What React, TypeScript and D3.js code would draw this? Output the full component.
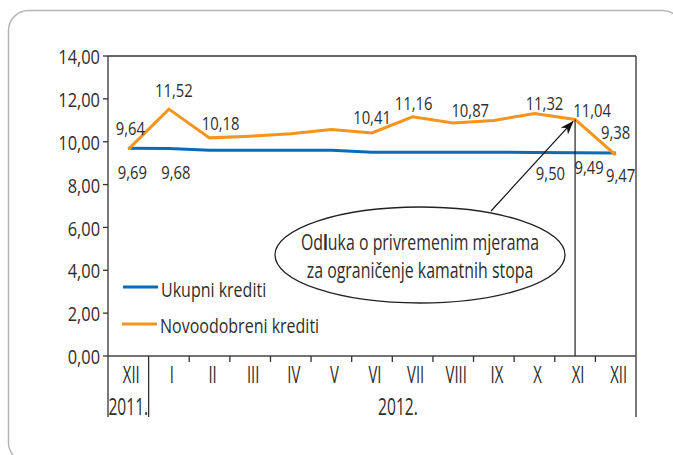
import React from 'react';
import * as d3 from 'd3';

// mjeseci (XII 2011. + I-XII 2012.)
const months = ['XII', 'I', 'II', 'III', 'IV', 'V', 'VI', 'VII', 'VIII', 'IX', 'X', 'XI', 'XII'];
const years = ['2011.', '2012.'];
const yTicks = [0, 2, 4, 6, 8, 10, 12, 14];

// Ukupni krediti
const ukupni = [9.69, 9.68, 9.6, 9.6, 9.6, 9.6, 9.51, 9.51, 9.51, 9.51, 9.5, 9.49, 9.47];
// Novoodobreni krediti
const novi = [9.64, 11.52, 10.18, 10.26, 10.37, 10.57, 10.41, 11.16, 10.87, 10.99, 11.32, 11.04, 9.38];

// koje vrijednosti imaju oznaku
const noviLabeled = [0, 1, 2, 6, 7, 8, 10, 11, 12];
const ukupniLabeled = [0, 1, 10, 11, 12];

// pomak oznaka od tocke [dx, dy]
const noviOffsets: Record<number, [number, number]> = {
  0: [2, -22], 1: [5, -19], 2: [11, -15], 6: [0, -16], 7: [1, -14],
  8: [17, -13], 10: [10, -11], 11: [17, -10], 12: [0, -23],
};
const ukupniOffsets: Record<number, [number, number]> = {
  0: [4, 23], 1: [7, 23], 10: [16, 20], 11: [14, 14], 12: [5, 22],
};

const W = 673;
const H = 455;
const M = { left: 108, right: 636, top: 56, bottom: 356 };
const BLUE = '#0b6bb5';
const ORANGE = '#f7941d';
const TEXT = '#2e2e2e';
const FONT = '"Open Sans", "Noto Sans", sans-serif';

const fmt = (v: number) => v.toFixed(2).replace('.', ',');

// uski tekst (Myriad Condensed izgled)
const CText = ({ x, y, sx = 0.75, size = 20, anchor = 'middle', baseline = 'central', children }: any) => (
  <text
    transform={`translate(${x},${y}) scale(${sx},1)`}
    fontSize={size}
    textAnchor={anchor}
    dominantBaseline={baseline}
    fill={TEXT}
    fontFamily={FONT}
  >
    {children}
  </text>
);

const App = () => {
  const x = d3.scaleBand<number>()
    .domain(months.map((_, i) => i))
    .range([M.left, M.right]);
  const y = d3.scaleLinear().domain([0, 14]).range([M.bottom, M.top]);
  const cx = (i: number) => (x(i) as number) + x.bandwidth() / 2;

  const line = d3.line<number>()
    .x((_, i) => cx(i))
    .y(d => y(d));

  const bottomEnd = 417;
  const xiIdx = 11;

  return (
    <div style={{ position: 'absolute', left: 0, top: 0 }}>
      <svg width={W} height={H} style={{ display: 'block', background: '#fff' }}>
        <defs>
          <marker id="arr" markerUnits="userSpaceOnUse" markerWidth="14" markerHeight="10"
            refX="13" refY="5" orient="auto">
            <path d="M0,0 L14,5 L0,10 L4,5 z" fill="#111" />
          </marker>
        </defs>

        {/* okvir */}
        <rect x={8.5} y={10.5} width={674} height={452} rx={20} fill="none" stroke="#b5b5b5" strokeWidth={1.5} />

        {/* okvir grafa */}
        <line x1={M.left} x2={M.right} y1={M.top} y2={M.top} stroke="#333" strokeWidth={1.3} />
        <line x1={M.left} x2={M.left} y1={M.top} y2={bottomEnd} stroke="#333" strokeWidth={1.3} />
        <line x1={M.right} x2={M.right} y1={M.top} y2={bottomEnd} stroke="#333" strokeWidth={1.3} />
        <line x1={M.left} x2={M.right} y1={M.bottom} y2={M.bottom} stroke="#444" strokeWidth={1.5} />
        <line x1={x(1)} x2={x(1)} y1={M.bottom} y2={bottomEnd} stroke="#333" strokeWidth={1.3} />

        {/* y os */}
        {yTicks.map(t => (
          <g key={t}>
            <line x1={M.left - 5} x2={M.left} y1={y(t)} y2={y(t)} stroke="#333" strokeWidth={1.3} />
            <CText x={100} y={y(t)} sx={0.82} size={20} anchor="end">{fmt(t)}</CText>
          </g>
        ))}

        {/* x os */}
        {months.map((m, i) => (
          <g key={i}>
            {i > 1 && (
              <line x1={x(i)} x2={x(i)} y1={M.bottom} y2={M.bottom + 6} stroke="#333" strokeWidth={1.3} />
            )}
            <CText x={cx(i) + 3} y={374} sx={0.62} size={24}>{m}</CText>
          </g>
        ))}
        <CText x={cx(0)} y={406} sx={0.65} size={24}>{years[0]}</CText>
        <CText x={398} y={406} sx={0.65} size={24}>{years[1]}</CText>

        {/* linije */}
        <path d={line(ukupni) || ''} fill="none" stroke={BLUE} strokeWidth={3} />
        <path d={line(novi) || ''} fill="none" stroke={ORANGE} strokeWidth={3} />

        {/* oznake vrijednosti */}
        {noviLabeled.map(i => (
          <CText key={'n' + i} x={cx(i) + noviOffsets[i][0]} y={y(novi[i]) + noviOffsets[i][1]} sx={0.78} size={19}>
            {fmt(novi[i])}
          </CText>
        ))}
        {ukupniLabeled.map(i => (
          <CText key={'u' + i} x={cx(i) + ukupniOffsets[i][0]} y={y(ukupni[i]) + ukupniOffsets[i][1]} sx={0.78} size={19}>
            {fmt(ukupni[i])}
          </CText>
        ))}

        {/* XI linija i napomena */}
        <line x1={cx(xiIdx)} x2={cx(xiIdx)} y1={y(novi[xiIdx])} y2={M.bottom} stroke="#222" strokeWidth={1.2} />
        <line x1={491} y1={211} x2={cx(xiIdx) - 2} y2={y(novi[xiIdx]) + 2} stroke="#111" strokeWidth={1.2} markerEnd="url(#arr)" />
        <ellipse cx={420} cy={255} rx={145} ry={48} fill="#fff" stroke="#222" strokeWidth={1.3} />
        <text transform="translate(420,250) scale(0.74,1)" fontSize={21.5} textAnchor="middle" fill={TEXT} fontFamily={FONT}>
          Od<tspan fontWeight="bold">l</tspan>uka o privremenim mjerama
        </text>
        <CText x={420} y={278} sx={0.74} size={21.5} baseline="alphabetic">za ograničenje kamatnih stopa</CText>

        {/* legenda */}
        <line x1={123} x2={158} y1={287} y2={287} stroke={BLUE} strokeWidth={3} />
        <CText x={161} y={297} sx={0.8} size={20} anchor="start" baseline="alphabetic">Ukupni krediti</CText>
        <line x1={122} x2={157} y1={324} y2={324} stroke={ORANGE} strokeWidth={3} />
        <CText x={160} y={333} sx={0.8} size={20} anchor="start" baseline="alphabetic">Novoodobreni krediti</CText>
      </svg>
    </div>
  );
};

export default App;
